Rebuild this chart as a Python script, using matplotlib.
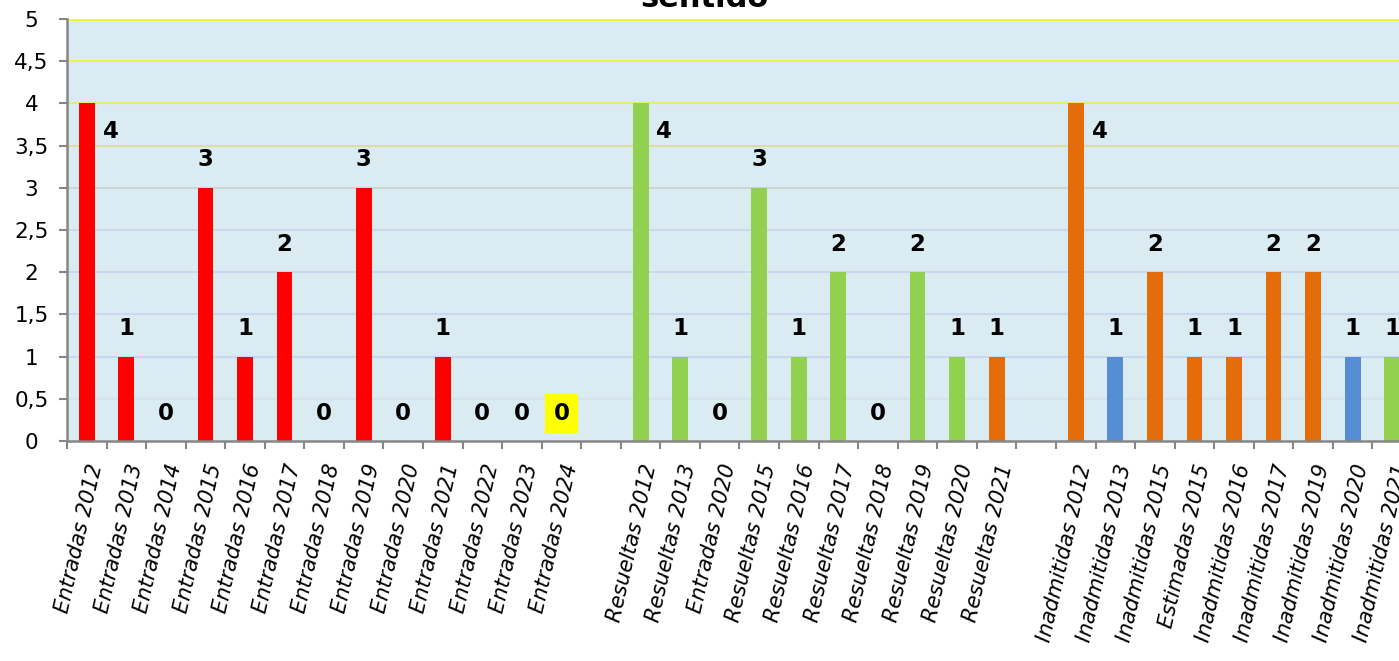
import matplotlib
matplotlib.use("Agg")
import matplotlib.pyplot as plt
import numpy as np

# ---- data ----
categories = [
    "Entradas 2012", "Entradas 2013", "Entradas 2014", "Entradas 2015", "Entradas 2016",
    "Entradas 2017", "Entradas 2018", "Entradas 2019", "Entradas 2020", "Entradas 2021",
    "Entradas 2022", "Entradas 2023", "Entradas 2024", "",
    "Resueltas 2012", "Resueltas 2013", "Entradas 2020", "Resueltas 2015", "Resueltas 2016",
    "Resueltas 2017", "Resueltas 2018", "Resueltas 2019", "Resueltas 2020", "Resueltas 2021", "",
    "Inadmitidas 2012", "Inadmitidas 2013", "Inadmitidas 2015", "Estimadas 2015",
    "Inadmitidas 2016", "Inadmitidas 2017", "Inadmitidas 2019", "Inadmitidas 2020",
    "Inadmitidas 2021",
]
values = [4, 1, 0, 3, 1, 2, 0, 3, 0, 1, 0, 0, 0, None,
          4, 1, 0, 3, 1, 2, 0, 2, 1, 1, None,
          4, 1, 2, 1, 1, 2, 2, 1, 1]
bar_colors = ["red"] * 13 + ["none"] + \
    ["green", "green", "green", "green", "green", "green", "green", "green", "green", "orange"] + ["none"] + \
    ["orange", "blue", "orange", "orange", "orange", "orange", "orange", "blue", "green"]
highlight_index = 12  # "Entradas 2024" label shown on yellow
title = "sentido"
yticks = [0, 0.5, 1, 1.5, 2, 2.5, 3, 3.5, 4, 4.5, 5]

palette = {"red": "#FF0000", "green": "#92D050", "orange": "#E46C0A",
           "blue": "#558ED5", "none": "none"}
grid_colors = ["#d5e3ef", "#d5e3ef", "#c9d6ef", "#cad7ee", "#cbd7ee", "#ccd7ec",
               "#ccd6d0", "#dcdf9c", "#e9ea70", "#f3f345", "#f7f72a"]

W, H = 1399, 661
fig = plt.figure(figsize=(W / 100, H / 100), dpi=100)
left_px, right_px, top_px, bot_px = 67, 1412, 19, 441
ax = fig.add_axes([left_px / W, 1 - bot_px / H, (right_px - left_px) / W, (bot_px - top_px) / H])
ax.set_facecolor("#DAEBF2")

x = np.arange(len(categories))
vals = [0 if v is None else v for v in values]
cols = [palette[c] for c in bar_colors]
ax.bar(x, vals, width=0.40, color=cols, zorder=3)

ax.set_xlim(-0.5, len(categories) - 0.5)
ax.set_ylim(0, 5)

# gridlines
for yv, gc in zip(yticks, grid_colors):
    if yv == 0:
        continue
    ax.axhline(yv, color=gc, lw=2.0 if yv == 5 else 1.5, zorder=1)

# data labels
lab_font = dict(fontsize=16.5, fontweight="bold", family="DejaVu Sans", zorder=5)
for xi, v in zip(x, values):
    if v is None:
        continue
    if v >= 4:
        ax.text(xi + 0.6, v - 0.33, str(v), ha="center", va="center", **lab_font)
    else:
        kw = {}
        if xi == highlight_index:
            kw["bbox"] = dict(boxstyle="square,pad=0.35", fc="#FFFF00", ec="none")
        ax.text(xi, v + 0.33, str(v), ha="center", va="center", **lab_font, **kw)

# axes styling
for s in ["top", "right"]:
    ax.spines[s].set_visible(False)
for s in ["left", "bottom"]:
    ax.spines[s].set_color("#868686")
    ax.spines[s].set_linewidth(1.8)
    ax.spines[s].set_zorder(6)

ax.set_yticks(yticks)
ax.set_yticklabels([("%g" % t).replace(".", ",") for t in yticks],
                   fontsize=15.5, family="DejaVu Sans", ha="center")
ax.tick_params(axis="y", length=5.5, width=1.5, color="#868686", pad=20)

ax.set_xticks(x)
ax.set_xticklabels(categories, rotation=77, ha="right", va="top",
                   rotation_mode="anchor", fontsize=15, family="DejaVu Sans",
                   style="italic")
ax.tick_params(axis="x", length=0, pad=15)
ax.set_xticks(np.arange(len(categories) + 1) - 0.5, minor=True)
ax.tick_params(axis="x", which="minor", length=5.5, width=1.5, color="#868686")

fig.text(704 / W, 1 - 7 / H, title, ha="center", va="baseline",
         fontsize=22, fontweight="bold", family="DejaVu Sans")

fig.savefig("out.png", dpi=100)
